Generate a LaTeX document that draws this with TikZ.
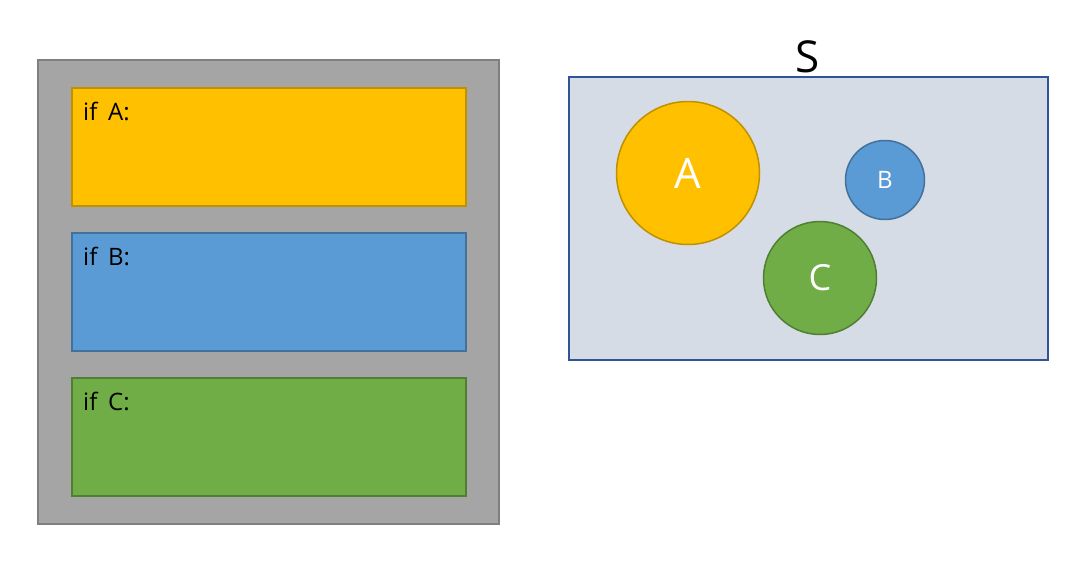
\documentclass[tikz,border=0pt]{standalone}
\usepackage{fontspec}
\setmainfont{Open Sans}
\definecolor{outerfill}{HTML}{A5A5A5}
\definecolor{outerdraw}{HTML}{7F7F7F}
\definecolor{orangef}{HTML}{FFC000}
\definecolor{oranged}{HTML}{BF9000}
\definecolor{bluef}{HTML}{5B9BD5}
\definecolor{blued}{HTML}{41719C}
\definecolor{greenf}{HTML}{70AD47}
\definecolor{greend}{HTML}{507E32}
\definecolor{setf}{HTML}{D6DCE5}
\definecolor{setd}{HTML}{2F5597}
\tikzset{
  box/.style={rectangle, line width=1.5pt, minimum width=394pt, minimum height=118pt, inner sep=0pt},
  circ/.style={circle, line width=1.5pt, inner sep=0pt, text=white},
  lbl/.style={anchor=base west, inner sep=0pt, font=\fontsize{24}{26}\selectfont}
}
\begin{document}
\begin{tikzpicture}[x=1pt,y=-1pt]
\useasboundingbox (0,0) rectangle (1085,565);
\node[rectangle, fill=outerfill, draw=outerdraw, line width=1.5pt, minimum width=461pt, minimum height=464pt, inner sep=0pt] (outer) at (268.5,292) {};
\node[box, fill=orangef, draw=oranged] (ifa) at (269,147) {};
\node[box, fill=bluef, draw=blued] (ifb) at (269,292) {};
\node[box, fill=greenf, draw=greend] (ifc) at (269,437) {};
\node[lbl] (ta) at (83,120) {if\hspace{0.45em}A:};
\node[lbl] (tb) at (83,265) {if\hspace{0.45em}B:};
\node[lbl] (tc) at (83,410) {if\hspace{0.45em}C:};
\node[rectangle, fill=setf, draw=setd, line width=1.5pt, minimum width=479pt, minimum height=283pt, inner sep=0pt] (set) at (808.5,218.5) {};
\node[inner sep=0pt, font=\fontsize{44}{46}\selectfont] (s) at (808,57) {S};
\node[circ, fill=orangef, draw=oranged, minimum size=143pt, font=\fontsize{42}{44}\selectfont] (ca) at (688,173) {A};
\node[circ, fill=bluef, draw=blued, minimum size=79pt, font=\fontsize{24}{26}\selectfont] (cb) at (885,180) {B};
\node[circ, fill=greenf, draw=greend, minimum size=113pt, font=\fontsize{36}{38}\selectfont] (cc) at (820,278) {C};
\end{tikzpicture}
\end{document}
